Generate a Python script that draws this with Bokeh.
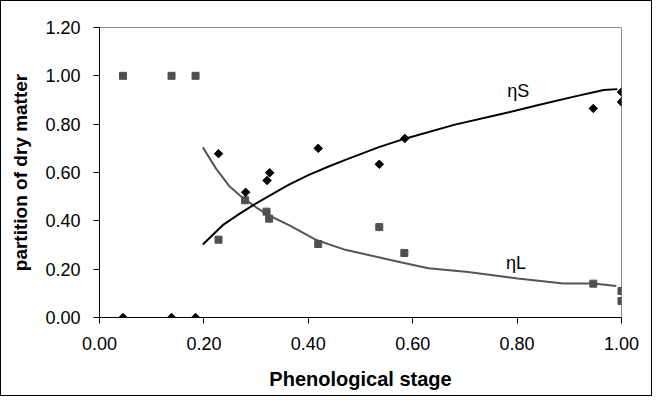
import math
from bokeh.plotting import figure
from bokeh.models import Range1d, FixedTicker, CustomJSTickFormatter
from bokeh.core.properties import value
from bokeh.embed import file_html
from bokeh.resources import INLINE

# observed partition to leaves (squares)
leaf_x = [0.045, 0.138, 0.184, 0.228, 0.279, 0.320, 0.325, 0.419, 0.536, 0.584, 0.946, 1.0, 1.0]
leaf_y = [1.0, 1.0, 1.0, 0.322, 0.485, 0.438, 0.409, 0.304, 0.374, 0.267, 0.140, 0.110, 0.068]

# observed partition to stems (diamonds)
stem_x = [0.045, 0.138, 0.184, 0.228, 0.280, 0.321, 0.326, 0.419, 0.536, 0.585, 0.946, 1.0, 1.0]
stem_y = [0.0, 0.0, 0.0, 0.678, 0.518, 0.567, 0.599, 0.700, 0.634, 0.741, 0.865, 0.933, 0.892]

# model curve eta S
etaS_x = [0.198, 0.236, 0.268, 0.293, 0.325, 0.363, 0.401, 0.439, 0.471, 0.534, 0.585,
          0.681, 0.776, 0.839, 0.909, 0.966, 0.992]
etaS_y = [0.302, 0.382, 0.429, 0.463, 0.503, 0.550, 0.590, 0.625, 0.652, 0.704, 0.740,
          0.798, 0.845, 0.878, 0.914, 0.941, 0.945]

# model curve eta L
etaL_x = [0.198, 0.223, 0.249, 0.274, 0.300, 0.325, 0.363, 0.414, 0.471, 0.579, 0.630,
          0.706, 0.801, 0.889, 0.946, 0.990]
etaL_y = [0.704, 0.617, 0.543, 0.496, 0.456, 0.422, 0.382, 0.322, 0.280, 0.228, 0.204,
          0.188, 0.161, 0.141, 0.141, 0.130]

ticks_x = [0.0, 0.2, 0.4, 0.6, 0.8, 1.0]
ticks_y = [0.0, 0.2, 0.4, 0.6, 0.8, 1.0, 1.2]

labels_text = ["\u03b7S", "\u03b7L"]
labels_x = [0.802, 0.798]
labels_y = [0.937, 0.227]

FONT = "Liberation Sans"

p = figure(width=652, height=396, output_backend="svg", toolbar_location=None,
           x_range=Range1d(0, 1.0), y_range=Range1d(0, 1.2),
           min_border_left=98, min_border_right=32, min_border_top=26, min_border_bottom=80,
           styles={"border": "1px solid black"})

p.background_fill_color = "white"
p.border_fill_color = "white"
p.outline_line_color = "#8c8c8c"
p.outline_line_width = 1
p.grid.visible = False

fmt = CustomJSTickFormatter(code="return tick.toFixed(2);")
for ax, ticks in ((p.xaxis[0], ticks_x), (p.yaxis[0], ticks_y)):
    ax.ticker = FixedTicker(ticks=ticks)
    ax.formatter = fmt
    ax.axis_line_color = "black"
    ax.major_tick_line_color = "black"
    ax.major_tick_in = 0
    ax.major_tick_out = 6
    ax.minor_tick_line_color = None
    ax.major_label_text_font = FONT
    ax.major_label_text_font_size = "18px"
    ax.major_label_text_color = "black"
    ax.axis_label_text_font = FONT
    ax.axis_label_text_font_style = "bold"
    ax.axis_label_text_color = "black"

p.xaxis.axis_label = "Phenological stage"
p.yaxis.axis_label = "partition of dry matter"
p.xaxis.axis_label_text_font_size = "20px"
p.yaxis.axis_label_text_font_size = "19px"
p.xaxis.major_label_standoff = 13
p.yaxis.major_label_standoff = 13
p.xaxis.axis_label_standoff = 15
p.yaxis.axis_label_standoff = 11

p.line(etaL_x, etaL_y, line_color="#555555", line_width=2)
p.line(etaS_x, etaS_y, line_color="black", line_width=2)

p.scatter(leaf_x, leaf_y, marker="square", size=7, fill_color="#505050", line_color="#505050")
p.scatter(stem_x, stem_y, marker="square", size=6, angle=math.pi / 4,
          fill_color="black", line_color="black")

p.text(labels_x, labels_y, text=labels_text, text_font=value(FONT), text_font_size="18px",
       text_align="center", text_baseline="middle", text_color="black")

open("out.html", "w").write(file_html(p, INLINE))
